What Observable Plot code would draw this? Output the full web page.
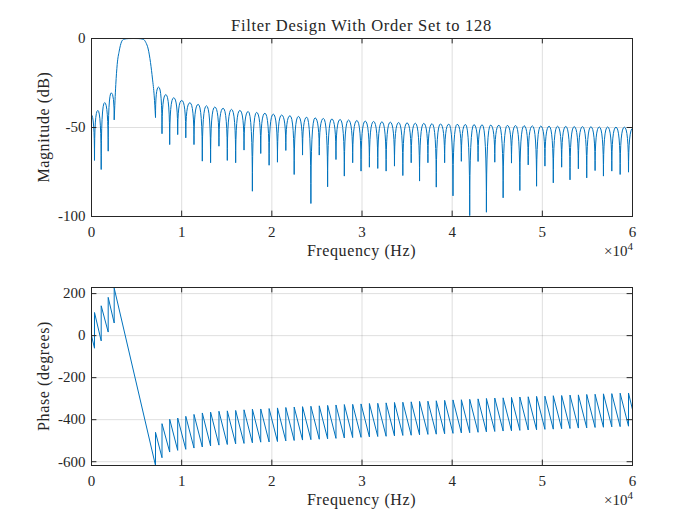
<!DOCTYPE html>
<html>
<head>
<meta charset="utf-8">
<script src="https://cdn.jsdelivr.net/npm/d3@7"></script>
<script src="https://cdn.jsdelivr.net/npm/@observablehq/plot@0.6"></script>
<style>
  html, body { margin: 0; padding: 0; background: #fff; }
  #fig { position: relative; width: 700px; height: 525px; background: #fff; overflow: hidden; }
  #fig > .p { position: absolute; left: 0; }
  #overlay { position: absolute; left: 0; top: 0; pointer-events: none; }
  #overlay text { font-family: "Liberation Serif", serif; fill: #262626; }
</style>
</head>
<body>
<div id="fig">
  <div class="p" id="p1" style="top:0px"></div>
  <div class="p" id="p2" style="top:249px"></div>
  <svg id="overlay" width="700" height="525">
    <text x="361.5" y="30.5" text-anchor="middle" font-size="16.5" letter-spacing="0.7">Filter Design With Order Set to 128</text>
    <text x="361.5" y="255.5" text-anchor="middle" font-size="16" letter-spacing="0.6">Frequency (Hz)</text>
    <text x="361.5" y="504.5" text-anchor="middle" font-size="16" letter-spacing="0.6">Frequency (Hz)</text>
    <text transform="translate(49,127) rotate(-90)" text-anchor="middle" font-size="16" letter-spacing="0.6">Magnitude (dB)</text>
    <text transform="translate(49,376) rotate(-90)" text-anchor="middle" font-size="16" letter-spacing="0.6">Phase (degrees)</text>
    <text x="633" y="255.5" text-anchor="end" font-size="15">×10<tspan dy="-6" font-size="11">4</tspan></text>
    <text x="633" y="504.5" text-anchor="end" font-size="15">×10<tspan dy="-6" font-size="11">4</tspan></text>
  </svg>
</div>
<script>
// ---------- tick values / labels ----------
const xTicks = [0, 10000, 20000, 30000, 40000, 50000, 60000];
const xTickLabels = ["0", "1", "2", "3", "4", "5", "6"];
const magTicks = [-100, -50, 0];
const phaseTicks = [-600, -400, -200, 0, 200];

// ---------- magnitude (dB) ----------
// below the passband: start, nulls and lobe peaks
const magLowHz = [0, 333, 700, 1076, 1460, 1852, 2200, 2517];
const magLowDb = [-42.7, -68.5, -40.4, -73.6, -36.0, -63.3, -30.5, -45.5];

// main (passband) lobe
const mainHz = [2517, 2695, 2850, 3072, 3327, 3582, 4100, 4650, 5200, 5733, 6022, 6288, 6544, 6766, 6954, 7098];
const mainDb = [-45.5, -25.8, -14.6, -7.1, -1.9, -0.4, -0.05, 0, -0.05, -0.4, -2.2, -5.9, -13.5, -22.8, -32.2, -44.2];

// stopband above the passband: nulls
const stopNullHz = [7098, 7819, 8672, 9560, 10458, 11367, 12288, 13208, 14135, 15062,
  15989, 16916, 17843, 18770, 19697, 20624, 21551, 22478, 23405, 24332,
  25259, 26186, 27113, 28040, 28967, 29894, 30821, 31748, 32675, 33602,
  34529, 35456, 36383, 37310, 38237, 39164, 40091, 41018, 41945, 42872,
  43799, 44726, 45653, 46580, 47507, 48434, 49361, 50288, 51215, 52142,
  53069, 53996, 54923, 55850, 56777, 57704, 58631, 59558];
const stopNullDb = [-44.2, -53.5, -59.6, -54.0, -55.8, -59.6, -68.9, -69.8, -60.5, -68.5,
  -69.8, -62.7, -85.8, -64.6, -71.2, -69.5, -62.9, -76.4, -65.5, -92.7,
  -65.5, -83.3, -68.0, -77.3, -69.8, -74.5, -72.3, -73.0, -74.5, -71.7,
  -77.0, -69.8, -80.1, -69.8, -83.5, -69.8, -88.4, -69.0, -99.5, -69.1,
  -97.6, -69.5, -89.5, -70.0, -85.4, -71.0, -83.0, -71.7, -81.1, -72.3,
  -79.4, -73.2, -78.3, -74.2, -77.3, -74.5, -76.4, -75.1];
// stopband lobe peaks (one between each pair of nulls)
const stopPeakHz = [7440, 8245, 9116, 10009, 10912, 11827, 12748, 13671, 14598, 15525,
  16452, 17379, 18306, 19233, 20160, 21087, 22014, 22941, 23868, 24795,
  25722, 26649, 27576, 28503, 29430, 30357, 31284, 32211, 33138, 34065,
  34992, 35919, 36846, 37773, 38700, 39627, 40554, 41481, 42408, 43335,
  44262, 45189, 46116, 47043, 47970, 48897, 49824, 50751, 51678, 52605,
  53532, 54459, 55386, 56313, 57240, 58167, 59094];
const stopPeakDb = [-27.3, -31.5, -33.3, -34.8, -36.1, -37.0, -37.8, -38.5, -39.2, -39.8,
  -40.4, -41.0, -41.5, -42.0, -42.5, -43.0, -43.4, -43.8, -44.2, -44.6,
  -44.9, -45.2, -45.5, -45.8, -46.1, -46.4, -46.6, -46.8, -47.0, -47.2,
  -47.4, -47.6, -47.7, -47.9, -48.0, -48.1, -48.2, -48.3, -48.4, -48.5,
  -48.6, -48.7, -48.8, -48.9, -49.0, -49.1, -49.2, -49.3, -49.3, -49.4,
  -49.5, -49.5, -49.6, -49.7, -49.7, -49.8, -49.8];
const magEndHz = 60000;
const magEndDb = -50.3;

// ---------- phase (degrees) ----------
const phaseStartDeg = 0;
const phaseJumpHz = [333, 1076, 1852, 2517].concat(stopNullHz);
const phaseBefore = [-60, -25, 17, 60,
  -618, -581, -554, -546, -541, -535, -530, -525, -521, -518,
  -515, -513, -510, -507, -506, -504, -501, -499, -497, -495,
  -493, -491, -489, -487, -485, -484, -482, -480, -479, -477,
  -475, -474, -472, -470, -469, -467, -465, -463, -462, -460,
  -458, -456, -454, -453, -451, -449, -448, -446, -445, -443,
  -442, -440, -439, -437, -436, -434, -433, -431];
const phaseAfter = [110, 142, 182, 226,
  -460, -419, -398, -392, -384, -375, -368, -364, -360, -358,
  -356, -353, -350, -349, -347, -344, -342, -340, -338, -336,
  -334, -332, -330, -328, -327, -325, -323, -322, -320, -318,
  -317, -315, -313, -312, -310, -308, -306, -305, -303, -301,
  -299, -297, -296, -294, -292, -291, -289, -288, -286, -285,
  -283, -282, -280, -279, -277, -276, -274, -273];
const phaseEndDeg = -352;

// ---------- tables ----------
const magLow = magLowHz.map((f, i) => ({f, v: magLowDb[i]}));
const magMain = mainHz.map((f, i) => ({f, v: mainDb[i]}));
const magStop = [];
stopNullHz.forEach((f, i) => {
  magStop.push({f, v: stopNullDb[i]});
  if (i < stopPeakHz.length) magStop.push({f: stopPeakHz[i], v: stopPeakDb[i]});
});
magStop.push({f: magEndHz, v: magEndDb});

const phase = [{f: 0, v: phaseStartDeg}];
phaseJumpHz.forEach((f, i) => {
  phase.push({f, v: phaseBefore[i]});
  phase.push({f, v: phaseAfter[i]});
});
phase.push({f: 60000, v: phaseEndDeg});

// lobe curve: vertical tangent at a null, horizontal tangent at a peak
function curveLobes(context) {
  let px, py, n = 0;
  return {
    areaStart() {}, areaEnd() {},
    lineStart() { n = 0; },
    lineEnd() {},
    point(x, y) {
      x = +x; y = +y;
      if (n++ === 0) context.moveTo(x, y);
      else if (y > py) context.quadraticCurveTo(x, py, x, y);
      else context.quadraticCurveTo(px, y, x, y);
      px = x; py = y;
    }
  };
}

const BLUE = "#0072BD";
const AX = "#262626";
const FRAME_H = 178, FRAME_W = 541, TICK = 5.4;

function axesMarks(yTicks) {
  return [
    Plot.gridX(xTicks, {stroke: AX, strokeOpacity: 0.15, strokeWidth: 1}),
    Plot.gridY(yTicks, {stroke: AX, strokeOpacity: 0.15, strokeWidth: 1}),
  ];
}
function frameMarks(yTicks) {
  return [
    Plot.tickX(xTicks, {x: d => d, insetTop: FRAME_H - TICK, stroke: AX, strokeWidth: 1}),
    Plot.tickX(xTicks, {x: d => d, insetBottom: FRAME_H - TICK, stroke: AX, strokeWidth: 1}),
    Plot.tickY(yTicks, {y: d => d, insetRight: FRAME_W - TICK, stroke: AX, strokeWidth: 1}),
    Plot.tickY(yTicks, {y: d => d, insetLeft: FRAME_W - TICK, stroke: AX, strokeWidth: 1}),
    Plot.frame({stroke: AX, strokeWidth: 1}),
    Plot.axisX(xTicks, {anchor: "bottom", tickSize: 0, tickPadding: 10, label: null,
      tickFormat: d => xTickLabels[xTicks.indexOf(d)], fontSize: 15}),
    Plot.axisY(yTicks, {anchor: "left", tickSize: 0, tickPadding: 6, label: null,
      tickFormat: d => String(d), fontSize: 15})
  ];
}
const style = {fontFamily: "Liberation Serif, serif", fontSize: "15px", color: AX, background: "transparent", overflow: "visible"};

const p1 = Plot.plot({
  width: 700, height: 266,
  marginLeft: 91, marginRight: 68, marginTop: 38, marginBottom: 50,
  style,
  x: {domain: [0, 60000]},
  y: {domain: [-100, 0]},
  marks: [
    ...axesMarks(magTicks),
    Plot.line(magLow, {x: "f", y: "v", stroke: BLUE, strokeWidth: 1, curve: curveLobes}),
    Plot.line(magMain, {x: "f", y: "v", stroke: BLUE, strokeWidth: 1, curve: "monotone-x"}),
    Plot.line(magStop, {x: "f", y: "v", stroke: BLUE, strokeWidth: 1, curve: curveLobes}),
    ...frameMarks(magTicks)
  ]
});
document.getElementById("p1").appendChild(p1);

const p2 = Plot.plot({
  width: 700, height: 276,
  marginLeft: 91, marginRight: 68, marginTop: 38, marginBottom: 60,
  style,
  x: {domain: [0, 60000]},
  y: {domain: [-618, 229]},
  marks: [
    ...axesMarks(phaseTicks),
    Plot.line(phase, {x: "f", y: "v", stroke: BLUE, strokeWidth: 1, clip: true}),
    ...frameMarks(phaseTicks)
  ]
});
document.getElementById("p2").appendChild(p2);
</script>
</body>
</html>
